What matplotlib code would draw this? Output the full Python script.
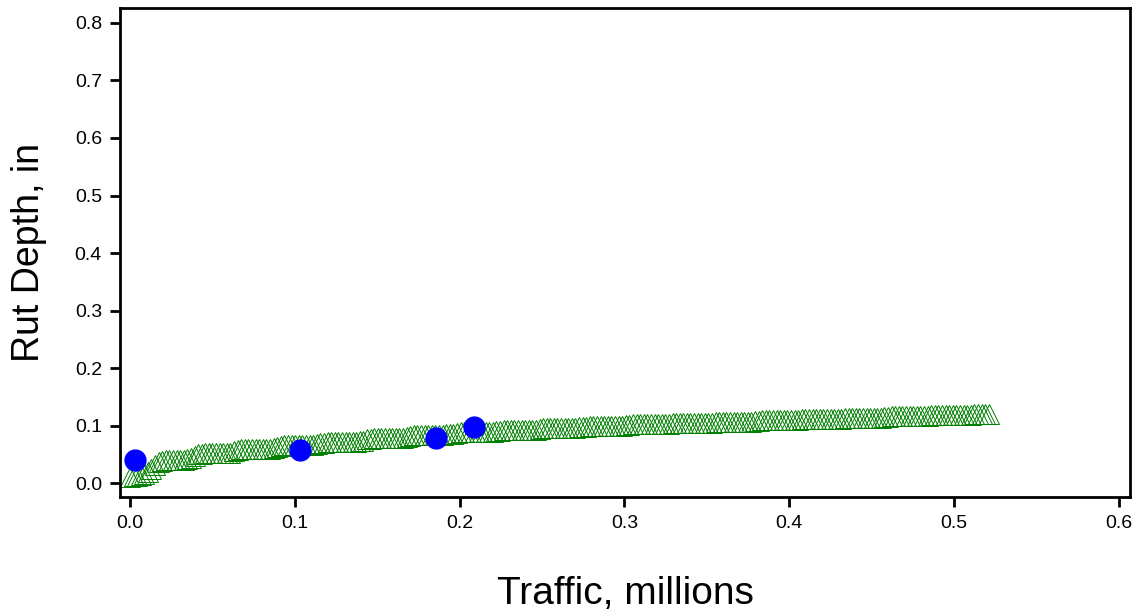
import matplotlib
matplotlib.use("Agg")
import matplotlib.pyplot as plt

plt.rcParams['font.family'] = ['Liberation Sans', 'DejaVu Sans']

# predicted rutting, one value per month (20 years)
traffic_pred = [
    0.0000, 0.0022, 0.0044, 0.0065, 0.0087, 0.0109, 0.0131, 0.0153, 0.0174, 0.0196, 0.0218, 0.0240,
    0.0262, 0.0283, 0.0305, 0.0327, 0.0349, 0.0371, 0.0392, 0.0414, 0.0436, 0.0458, 0.0480, 0.0501,
    0.0523, 0.0545, 0.0567, 0.0589, 0.0610, 0.0632, 0.0654, 0.0676, 0.0698, 0.0719, 0.0741, 0.0763,
    0.0785, 0.0807, 0.0828, 0.0850, 0.0872, 0.0894, 0.0916, 0.0937, 0.0959, 0.0981, 0.1003, 0.1025,
    0.1046, 0.1068, 0.1090, 0.1112, 0.1134, 0.1155, 0.1177, 0.1199, 0.1221, 0.1243, 0.1264, 0.1286,
    0.1308, 0.1330, 0.1352, 0.1373, 0.1395, 0.1417, 0.1439, 0.1461, 0.1482, 0.1504, 0.1526, 0.1548,
    0.1570, 0.1591, 0.1613, 0.1635, 0.1657, 0.1679, 0.1700, 0.1722, 0.1744, 0.1766, 0.1788, 0.1809,
    0.1831, 0.1853, 0.1875, 0.1897, 0.1918, 0.1940, 0.1962, 0.1984, 0.2006, 0.2027, 0.2049, 0.2071,
    0.2093, 0.2115, 0.2136, 0.2158, 0.2180, 0.2202, 0.2224, 0.2245, 0.2267, 0.2289, 0.2311, 0.2333,
    0.2354, 0.2376, 0.2398, 0.2420, 0.2442, 0.2463, 0.2485, 0.2507, 0.2529, 0.2551, 0.2572, 0.2594,
    0.2616, 0.2638, 0.2660, 0.2681, 0.2703, 0.2725, 0.2747, 0.2769, 0.2790, 0.2812, 0.2834, 0.2856,
    0.2878, 0.2899, 0.2921, 0.2943, 0.2965, 0.2987, 0.3008, 0.3030, 0.3052, 0.3074, 0.3096, 0.3117,
    0.3139, 0.3161, 0.3183, 0.3205, 0.3226, 0.3248, 0.3270, 0.3292, 0.3314, 0.3335, 0.3357, 0.3379,
    0.3401, 0.3423, 0.3444, 0.3466, 0.3488, 0.3510, 0.3532, 0.3553, 0.3575, 0.3597, 0.3619, 0.3641,
    0.3662, 0.3684, 0.3706, 0.3728, 0.3750, 0.3771, 0.3793, 0.3815, 0.3837, 0.3859, 0.3880, 0.3902,
    0.3924, 0.3946, 0.3968, 0.3989, 0.4011, 0.4033, 0.4055, 0.4077, 0.4098, 0.4120, 0.4142, 0.4164,
    0.4186, 0.4207, 0.4229, 0.4251, 0.4273, 0.4295, 0.4316, 0.4338, 0.4360, 0.4382, 0.4404, 0.4425,
    0.4447, 0.4469, 0.4491, 0.4513, 0.4534, 0.4556, 0.4578, 0.4600, 0.4622, 0.4643, 0.4665, 0.4687,
    0.4709, 0.4731, 0.4752, 0.4774, 0.4796, 0.4818, 0.4840, 0.4861, 0.4883, 0.4905, 0.4927, 0.4949,
    0.4970, 0.4992, 0.5014, 0.5036, 0.5058, 0.5079, 0.5101, 0.5123, 0.5145, 0.5167, 0.5188, 0.5210,
]
rut_pred = [
    0.010, 0.012, 0.013, 0.014, 0.016, 0.019, 0.024, 0.031, 0.036, 0.039, 0.040, 0.040,
    0.040, 0.040, 0.040, 0.041, 0.042, 0.044, 0.047, 0.050, 0.051, 0.052, 0.052, 0.052,
    0.052, 0.052, 0.052, 0.052, 0.053, 0.055, 0.057, 0.059, 0.060, 0.060, 0.060, 0.060,
    0.060, 0.060, 0.060, 0.060, 0.061, 0.062, 0.064, 0.066, 0.067, 0.067, 0.067, 0.067,
    0.067, 0.067, 0.067, 0.067, 0.068, 0.069, 0.070, 0.071, 0.072, 0.072, 0.072, 0.072,
    0.072, 0.072, 0.072, 0.072, 0.073, 0.074, 0.076, 0.077, 0.078, 0.078, 0.078, 0.078,
    0.078, 0.078, 0.078, 0.078, 0.079, 0.080, 0.082, 0.083, 0.084, 0.084, 0.084, 0.084,
    0.084, 0.084, 0.084, 0.084, 0.085, 0.085, 0.086, 0.087, 0.088, 0.088, 0.088, 0.088,
    0.088, 0.088, 0.088, 0.088, 0.089, 0.089, 0.090, 0.091, 0.092, 0.092, 0.092, 0.092,
    0.092, 0.092, 0.092, 0.092, 0.093, 0.093, 0.094, 0.095, 0.096, 0.096, 0.096, 0.096,
    0.096, 0.096, 0.096, 0.096, 0.096, 0.097, 0.098, 0.098, 0.099, 0.099, 0.099, 0.099,
    0.099, 0.099, 0.099, 0.099, 0.099, 0.100, 0.101, 0.101, 0.102, 0.102, 0.102, 0.102,
    0.102, 0.102, 0.102, 0.102, 0.102, 0.103, 0.103, 0.104, 0.104, 0.104, 0.104, 0.104,
    0.104, 0.104, 0.104, 0.104, 0.104, 0.105, 0.105, 0.106, 0.106, 0.106, 0.106, 0.106,
    0.106, 0.106, 0.106, 0.106, 0.106, 0.107, 0.108, 0.108, 0.109, 0.109, 0.109, 0.109,
    0.109, 0.109, 0.109, 0.109, 0.109, 0.110, 0.110, 0.111, 0.111, 0.111, 0.111, 0.111,
    0.111, 0.111, 0.111, 0.111, 0.111, 0.112, 0.112, 0.113, 0.113, 0.113, 0.113, 0.113,
    0.113, 0.113, 0.113, 0.113, 0.113, 0.114, 0.115, 0.115, 0.116, 0.116, 0.116, 0.116,
    0.116, 0.116, 0.116, 0.116, 0.116, 0.117, 0.117, 0.118, 0.118, 0.118, 0.118, 0.118,
    0.118, 0.118, 0.118, 0.118, 0.118, 0.119, 0.119, 0.120, 0.120, 0.120, 0.120, 0.120,
]

# measured rutting
traffic_meas = [0.003, 0.103, 0.186, 0.209]
rut_meas = [0.040, 0.058, 0.078, 0.098]

x_ticks = [0.0, 0.1, 0.2, 0.3, 0.4, 0.5, 0.6]
y_ticks = [0.0, 0.1, 0.2, 0.3, 0.4, 0.5, 0.6, 0.7, 0.8]

fig = plt.figure(figsize=(11.43, 6.15), dpi=100)
ax = fig.add_axes([0.105, 0.192, 0.884, 0.795])

ax.plot(traffic_pred, rut_pred, linestyle='none', marker='^', markersize=15,
        markerfacecolor='none', markeredgecolor='#008000', markeredgewidth=0.7)
ax.plot(traffic_meas, rut_meas, linestyle='none', marker='o', markersize=15,
        color='#0000ff')

ax.set_xlim(-0.006, 0.607)
ax.set_ylim(-0.024, 0.826)
ax.set_xticks(x_ticks)
ax.set_yticks(y_ticks)
ax.set_xticklabels(['%.1f' % v for v in x_ticks])
ax.set_yticklabels(['%.1f' % v for v in y_ticks])

for s in ax.spines.values():
    s.set_linewidth(2)
ax.tick_params(direction='out', length=7, width=2, labelsize=14, pad=6)

ax.set_xlabel('Traffic, millions', fontsize=28, labelpad=32)
ax.set_ylabel('Rut Depth, in', fontsize=27, labelpad=20)

fig.savefig('out.png', dpi=100)
